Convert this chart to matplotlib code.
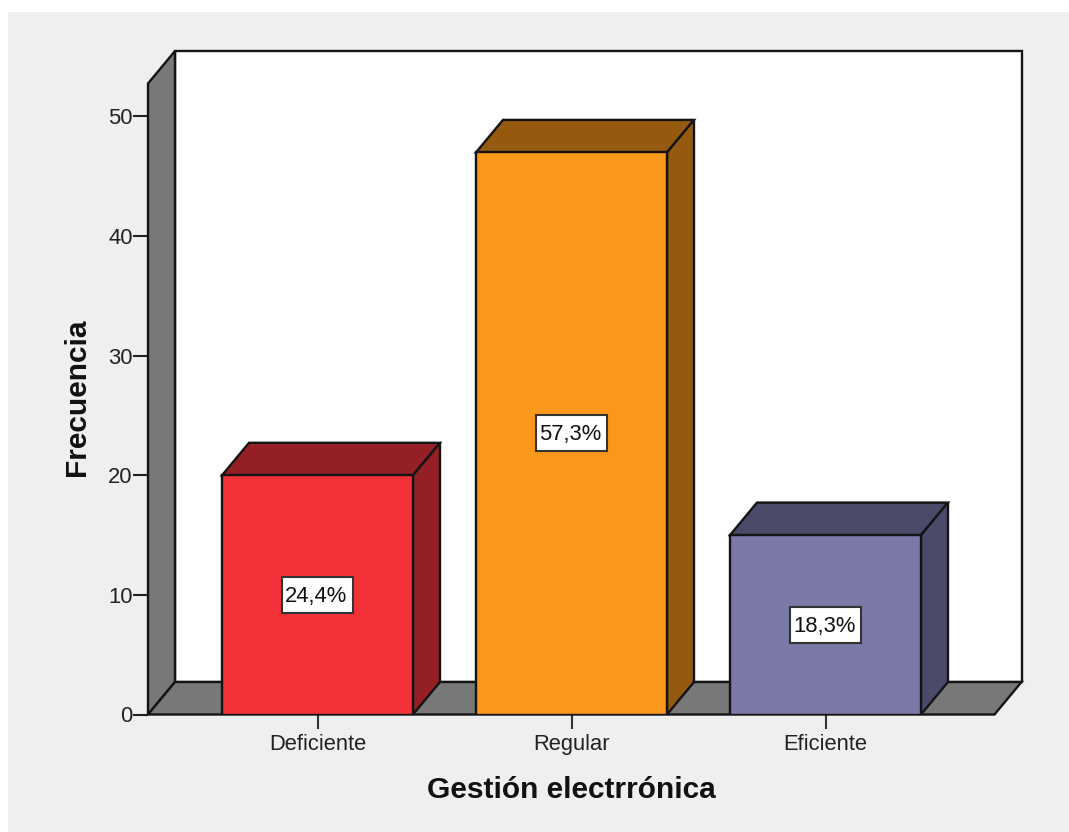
import matplotlib
matplotlib.use('Agg')
import matplotlib.pyplot as plt
from matplotlib.patches import Polygon, Rectangle

# Data
categories = ['Deficiente', 'Regular', 'Eficiente']
frequencies = [20, 47, 15]
percent_labels = ['24,4%', '57,3%', '18,3%']
yticks = [0, 10, 20, 30, 40, 50]

front_colors = ['#f23238', '#fa981c', '#7a79a8']
top_colors = ['#941f24', '#955a10', '#4b4a69']
side_colors = ['#941f24', '#955a10', '#4b4a69']
wall_color = '#787878'
edge = '#141414'

plt.rcParams['font.family'] = ['Liberation Sans', 'DejaVu Sans']

W, H = 1069, 832
fig = plt.figure(figsize=(W / 100, H / 100), dpi=100, facecolor='white')

# grey chart panel, with the white strip at the left and top
fig.patches.append(Rectangle((8 / W, 0), 1 - 8 / W, 1 - 12 / H, transform=fig.transFigure,
                             facecolor='#efefef', edgecolor='none', zorder=-5))

# axes box runs from the front-left corner to the back-right corner
ax = fig.add_axes([148 / W, 1 - 714.5 / H, (1021.5 - 148) / W, (714.5 - 51) / H])
ax.patch.set_alpha(0)

bar_w = 191 / 254
dx = 27 / 254
dy = 32.5 / 11.96
ymax = (714.5 - 51) / 11.96
xleft = (148 - 317.5) / 254
xright = (1021.5 - 317.5) / 254
ax.set_xlim(xleft, xright)
ax.set_ylim(0, ymax)

lw = 1.7
xfront_r = xright - dx
ytop_f = ymax - dy

# back wall, left wall and floor
ax.add_patch(Rectangle((xleft + dx, dy), xright - xleft - dx, ymax - dy,
                       facecolor='white', edgecolor=edge, lw=lw, clip_on=False, zorder=1))
ax.add_patch(Polygon([(xleft, 0), (xleft, ytop_f), (xleft + dx, ymax), (xleft + dx, dy)],
                     facecolor=wall_color, edgecolor=edge, lw=lw, clip_on=False, zorder=2))
ax.add_patch(Polygon([(xleft, 0), (xfront_r, 0), (xright, dy), (xleft + dx, dy)],
                     facecolor=wall_color, edgecolor=edge, lw=lw, clip_on=False, zorder=2))

box_w = 71 / 254
box_h = 36 / 11.96

for i, v in enumerate(frequencies):
    x0 = i - bar_w / 2
    x1 = i + bar_w / 2
    z = 3 + i
    ax.add_patch(Polygon([(x0, v), (x1, v), (x1 + dx, v + dy), (x0 + dx, v + dy)],
                         facecolor=top_colors[i], edgecolor=edge, lw=lw, clip_on=False, zorder=z))
    ax.add_patch(Polygon([(x1, 0), (x1 + dx, dy), (x1 + dx, v + dy), (x1, v)],
                         facecolor=side_colors[i], edgecolor=edge, lw=lw, clip_on=False, zorder=z))
    ax.bar(i, v, width=bar_w, color=front_colors[i], edgecolor=edge, linewidth=lw, zorder=z)
    ax.add_patch(Rectangle((i - box_w / 2, v / 2 - box_h / 2), box_w, box_h, facecolor='white',
                           edgecolor='#333333', lw=1.5, zorder=10))
    # text sits a touch below the box centre
    ax.text(i - 0.005, v / 2 - 0.13, percent_labels[i], ha='center', va='center', fontsize=15.8,
            color='#111111', zorder=11)

for s in ax.spines.values():
    s.set_visible(False)

ax.set_yticks(yticks)
ax.set_xticks(range(len(categories)))
ax.set_xticklabels(categories)
ax.tick_params(axis='y', length=11, width=1.5, color='#222222', labelsize=15.8,
               labelcolor='#222222', pad=0)
ax.tick_params(axis='x', length=10, width=1.5, color='#333333', labelsize=15.8,
               labelcolor='#222222', pad=4)

fig.text(77 / W, 1 - 397 / H, 'Frecuencia', rotation=90, ha='center', va='center',
         fontsize=21.5, fontweight='bold', color='#111111')
fig.text(571 / W, 1 - 790.5 / H, 'Gestión electrrónica', ha='center', va='center',
         fontsize=21.5, fontweight='bold', color='#111111')

fig.savefig('out.png', dpi=100, facecolor=fig.get_facecolor())
